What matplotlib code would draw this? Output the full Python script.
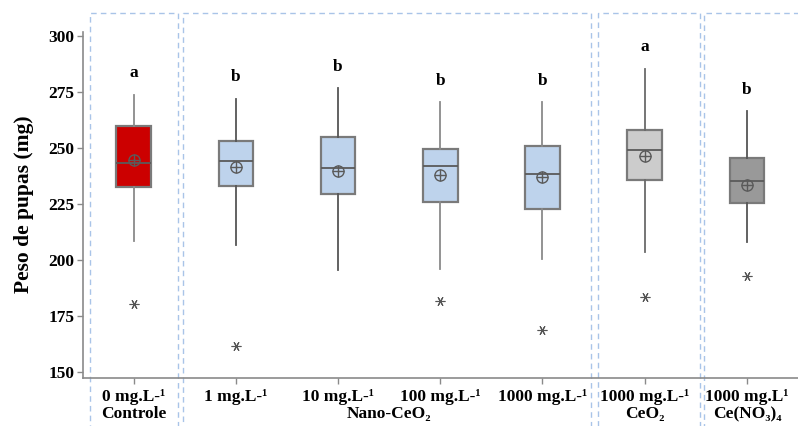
import matplotlib.pyplot as plt
import matplotlib.transforms as mtransforms
from matplotlib.patches import Rectangle

# pupal weight (mg) summaries per treatment
doses = ['0 mg.L-¹', '1 mg.L-¹', '10 mg.L-¹', '100 mg.L-¹',
         '1000 mg.L-¹', '1000 mg.L-¹', '1000 mg.L¹']
q1 = [232.6, 233.1, 229.4, 226.1, 223.0, 235.9, 225.7]
medians = [243.5, 244.4, 241.0, 241.9, 238.6, 249.0, 235.5]
q3 = [259.9, 253.0, 254.8, 249.7, 250.9, 257.9, 245.4]
whis_low = [208.7, 206.8, 195.6, 196.1, 200.7, 203.5, 208.0]
whis_high = [273.7, 271.9, 276.7, 270.4, 270.4, 285.3, 266.4]
means = [244.6, 241.7, 239.8, 237.9, 237.1, 246.3, 233.4]
outliers = [[180.3], [161.7], [], [181.9], [168.9], [183.7], [193.0]]
letters = ['a', 'b', 'b', 'b', 'b', 'a', 'b']

groups = ['Controle', 'Nano-CeO₂', 'CeO₂', 'Ce(NO₃)₄']
group_members = [[0], [1, 2, 3, 4], [5], [6]]
# dashed frame edges around each group, in x data units
group_frames = [(-0.43, 0.43), (0.48, 4.47), (4.54, 5.54), (5.58, 6.6)]

box_colors = ['#CC0000', '#BED3EC', '#BED3EC', '#BED3EC', '#BED3EC',
              '#CCCCCC', '#999999']
whisker_colors = ['#8a8a8a', '#555555', '#555555', '#8a8a8a', '#8a8a8a',
                  '#6a6a6a', '#555555']

serif = ['Liberation Serif', 'DejaVu Serif']
plt.rcParams['font.family'] = serif
plt.rcParams['font.weight'] = 'bold'

fig = plt.figure(figsize=(7.98, 4.26), dpi=100)
ax = fig.add_axes([0.1035, 0.1134, 0.8965, 0.8126])

positions = list(range(len(doses)))
stats = []
for i in positions:
    stats.append(dict(med=medians[i], q1=q1[i], q3=q3[i],
                      whislo=whis_low[i], whishi=whis_high[i],
                      mean=means[i], fliers=outliers[i]))

bp = ax.bxp(stats, positions=positions, widths=0.34, patch_artist=True,
            showmeans=True, showcaps=False,
            boxprops=dict(edgecolor='#7a7a7a', linewidth=1.6),
            medianprops=dict(color='#5a5a5a', linewidth=1.3),
            whiskerprops=dict(color='#6a6a6a', linewidth=1.3),
            meanprops=dict(marker='o', markerfacecolor='none',
                           markeredgecolor='#5a5a5a', markersize=8,
                           markeredgewidth=1.0),
            flierprops=dict(marker=(6, 2, 30), markeredgecolor='#555555',
                            markersize=7, markeredgewidth=0.8))
for patch, c in zip(bp['boxes'], box_colors):
    patch.set_facecolor(c)
# two whisker lines per box
for i, c in enumerate(whisker_colors):
    bp['whiskers'][2 * i].set_color(c)
    bp['whiskers'][2 * i + 1].set_color(c)
# cross inside the mean circle
ax.plot(positions, means, linestyle='none', marker='+', markersize=8,
        markeredgewidth=1.0, color='#5a5a5a', zorder=4)

for x, top, letter in zip(positions, whis_high, letters):
    ax.annotate(letter, (x, top), xytext=(0, 15.5), textcoords='offset points',
                ha='center', va='center', fontsize=12.5, fontweight='bold')

ax.set_xlim(-0.5, 6.5)
ax.set_ylim(147.6, 302)
ax.set_yticks([150, 175, 200, 225, 250, 275, 300])
ax.set_xticks(positions)
ax.set_xticklabels(doses)
ax.tick_params(axis='y', labelsize=12.5, length=4, width=1, color='#8a8a8a', pad=2)
ax.tick_params(axis='x', labelsize=12.5, length=4, width=1, color='#8a8a8a', pad=4)
for lbl in ax.get_xticklabels() + ax.get_yticklabels():
    lbl.set_fontweight('bold')

for side in ['top', 'right']:
    ax.spines[side].set_visible(False)
for side in ['left', 'bottom']:
    ax.spines[side].set_color('#8a8a8a')
    ax.spines[side].set_linewidth(1.2)

ax.set_ylabel('Peso de pupas (mg)', fontsize=15.5, fontweight='bold', labelpad=10)

# group names under the dose labels
under = mtransforms.blended_transform_factory(ax.transData, ax.transAxes)
for name, members in zip(groups, group_members):
    xc = sum(members) / len(members)
    ax.annotate(name, (xc, 0), xycoords=under, xytext=(0, -26.1),
                textcoords='offset points', ha='center', va='center',
                fontsize=12.5, fontweight='bold', annotation_clip=False)

# dashed frames around the treatment groups
frame_tr = mtransforms.blended_transform_factory(ax.transData, fig.transFigure)
for left, right in group_frames:
    ax.add_patch(Rectangle((left, -0.05), right - left, 1.019, transform=frame_tr,
                           fill=False, edgecolor='#A9C4E8', linewidth=1.0,
                           linestyle=(0, (4, 3)), clip_on=False, zorder=0))

fig.savefig('out.png', dpi=100)
